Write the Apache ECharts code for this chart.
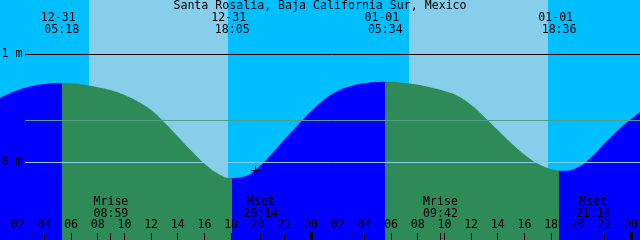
<!DOCTYPE html>
<html><head><meta charset="utf-8">
<script src="https://cdn.jsdelivr.net/npm/echarts@6/dist/echarts.min.js"></script>
<style>html,body{margin:0;padding:0;background:#00bfff}#c{width:640px;height:240px}</style>
</head><body><div id="c"></div>
<script>
// ---- data (hours counted from 12-31 00:00) ----
const chartTitle = 'Santa Rosalia, Baja California Sur, Mexico';
const tideHours = [0.667, 1, 2, 3, 4, 5, 6, 7, 8, 9, 10, 11, 12, 13, 14, 15, 16, 17, 18, 19, 20, 21, 22, 23, 24, 25, 26, 27, 28, 29, 30, 31, 32, 33, 34, 35, 36, 37, 38, 39, 40, 41, 42, 43, 44, 45, 46, 47, 48, 48.667];
const tideMeters = [0.593, 0.614, 0.665, 0.701, 0.722, 0.731, 0.730, 0.715, 0.692, 0.664, 0.620, 0.560, 0.481, 0.366, 0.236, 0.106, -0.014, -0.106, -0.147, -0.134, -0.054, 0.069, 0.208, 0.340, 0.469, 0.579, 0.657, 0.704, 0.729, 0.741, 0.743, 0.731, 0.715, 0.690, 0.657, 0.611, 0.528, 0.417, 0.296, 0.176, 0.069, -0.014, -0.065, -0.081, -0.049, 0.042, 0.171, 0.292, 0.398, 0.466];
const sunHours = [5.3, 18.0833, 29.5667, 42.6];
const sunDates = ['12-31', '12-31', '01-01', '01-01'];
const sunTimes = ['05:18', '18:05', '05:34', '18:36'];
const moonHours = [8.9833, 20.2333, 33.7, 45.1667];
const moonNames = ['Mrise', 'Mset', 'Mrise', 'Mset'];
const moonTimes = ['08:59', '20:14', '09:42', '21:10'];
const skyBandStart = [7.342, 31.342];
const skyBandEnd = [17.767, 41.767];
const tickHours = [2, 4, 6, 8, 10, 12, 14, 16, 18, 20, 22, 24, 26, 28, 30, 32, 34, 36, 38, 40, 42, 44, 46, 48];
const tickLabels = ['02', '04', '06', '08', '10', '12', '14', '16', '18', '20', '22', '00', '02', '04', '06', '08', '10', '12', '14', '16', '18', '20', '22', '00'];
const levelValues = [1, 0.389, 0];
const levelLabels = ['1 m', '', '0 m'];
const markerHour = [19.815];
const markerMeters = [-0.077];

// ---- layout helpers ----
const X_MIN = 2 / 3, X_MAX = 48 + 2 / 3, Y_MIN = -78 / 108, Y_MAX = 1.5;
const hx = px => X_MIN + px * 0.075;          // pixel column -> hour
const my = py => (162 - py) / 108;            // pixel row -> metres
const FONT = '11.6px "DejaVu Sans Mono", monospace';
const C = { night: '#00bfff', day: '#87ceeb', fgDay: '#2e8b57', fgNight: '#0000ff' };

const chart = echarts.init(document.getElementById('c'), null, { renderer: 'canvas' });

// texts
const texts = [];
texts.push([X_MIN + 24, my(6), chartTitle]);
sunHours.forEach((h, i) => {
  texts.push([h - 0.26, my(17.5), sunDates[i]]);
  texts.push([h, my(29.5), sunTimes[i]]);
});
moonHours.forEach((h, i) => {
  texts.push([h, my(202), moonNames[i]]);
  texts.push([h, my(213.5), moonTimes[i]]);
});
tickHours.forEach((h, i) => texts.push([h, my(225), tickLabels[i]]));
levelValues.forEach((v, i) => { if (levelLabels[i]) texts.push([hx(12), v, levelLabels[i]]); });

// ticks: kind 0 normal, 1 midnight
const ticks = tickHours.map(h => [h, h % 24 === 0 ? 1 : 0]).concat(moonHours.map(h => [h, 0]));

const lineColors = ['#000000', '#4f9f86', '#87ceeb'];

const visPieces = [];
let prev = null;
for (let i = 0; i < sunHours.length; i += 2) {
  visPieces.push(prev === null ? { lt: sunHours[i], color: C.fgNight } : { gte: prev, lt: sunHours[i], color: C.fgNight });
  visPieces.push({ gte: sunHours[i], lt: sunHours[i + 1], color: C.fgDay });
  prev = sunHours[i + 1];
}
visPieces.push({ gte: prev, color: C.fgNight });

chart.setOption({
  animation: false,
  backgroundColor: C.night,
  grid: { left: 0, right: 0, top: 0, bottom: 0 },
  xAxis: { type: 'value', min: X_MIN, max: X_MAX, show: false },
  yAxis: { type: 'value', min: Y_MIN, max: Y_MAX, show: false },
  visualMap: { type: 'piecewise', show: false, dimension: 0, seriesIndex: 1, pieces: visPieces },
  series: [
    {
      type: 'custom', z: 1, silent: true, clip: true,
      encode: { x: [0, 1] },
      data: skyBandStart.map((s, i) => [s, skyBandEnd[i]]),
      renderItem: (p, api) => {
        const a = api.coord([api.value(0), Y_MAX]);
        const b = api.coord([api.value(1), Y_MIN]);
        return { type: 'rect', shape: { x: Math.round(a[0]), y: a[1], width: Math.round(b[0]) - Math.round(a[0]), height: b[1] - a[1] }, style: { fill: C.day } };
      }
    },
    {
      type: 'line', z: 2, silent: true, smooth: 0.5, showSymbol: false,
      data: tideHours.map((h, i) => [h, tideMeters[i]]),
      lineStyle: { width: 0 },
      areaStyle: { origin: 'start', opacity: 1 }
    },
    {
      type: 'custom', z: 3, silent: true,
      encode: { y: 0 },
      data: levelValues.map((v, i) => [v, i]),
      renderItem: (p, api) => {
        const a = api.coord([hx(25), api.value(0)]);
        const b = api.coord([X_MAX, api.value(0)]);
        const y = Math.round(a[1]) + 0.5;
        return { type: 'line', shape: { x1: Math.round(a[0]), y1: y, x2: b[0], y2: y }, style: { stroke: lineColors[p.dataIndex], lineWidth: 1 } };
      }
    },
    {
      type: 'custom', z: 3, silent: true,
      encode: { x: 0 },
      data: ticks,
      renderItem: (p, api) => {
        const big = api.value(1) === 1;
        const top = api.coord([api.value(0), my(big ? 232 : 233)]);
        const bot = api.coord([api.value(0), Y_MIN]);
        const x = big ? Math.round(top[0]) - 1 : Math.floor(top[0]);
        return { type: 'rect', shape: { x: x, y: Math.round(top[1]), width: big ? 3 : 1, height: bot[1] - Math.round(top[1]) }, style: { fill: '#000' } };
      }
    },
    {
      type: 'custom', z: 4, silent: true,
      encode: { x: 0, y: 1 },
      data: markerHour.map((h, i) => [h, markerMeters[i]]),
      renderItem: (p, api) => {
        const c = api.coord([api.value(0), api.value(1)]);
        const x = Math.round(c[0]) + 0.5, y = Math.round(c[1]) + 0.5;
        return { type: 'group', children: [
          { type: 'line', shape: { x1: x - 4.5, y1: y, x2: x + 4.5, y2: y }, style: { stroke: '#000', lineWidth: 1 } },
          { type: 'line', shape: { x1: x, y1: y - 4.5, x2: x, y2: y + 4.5 }, style: { stroke: '#000', lineWidth: 1 } }
        ] };
      }
    },
    {
      type: 'custom', z: 5, silent: true,
      encode: { x: 0, y: 1 },
      data: texts.map(t => [t[0], t[1]]),
      renderItem: (p, api) => {
        const c = api.coord([api.value(0), api.value(1)]);
        return { type: 'text', x: c[0], y: c[1], style: { text: texts[p.dataIndex][2], fill: '#000', font: FONT, align: 'center', verticalAlign: 'middle' } };
      }
    }
  ]
});
</script>
</body></html>
